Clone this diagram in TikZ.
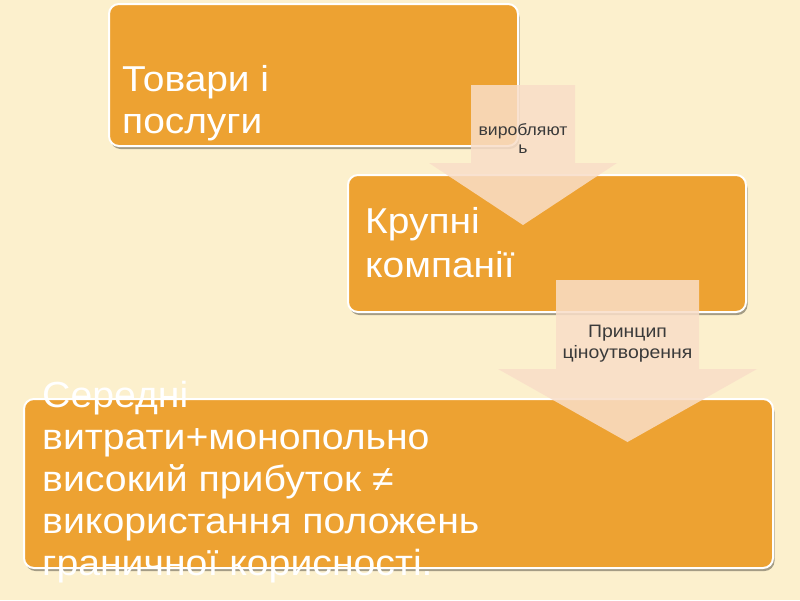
\documentclass[tikz,border=0pt]{standalone}
\usepackage{fontspec}
\setmainfont{Liberation Sans}[FakeStretch=1.08]
\usetikzlibrary{shadows}
\definecolor{Cream}{HTML}{FCF0CD}
\definecolor{Amber}{HTML}{EDA232}
\definecolor{Peach}{HTML}{F9DEC8}
\definecolor{Ink}{HTML}{3A3A3A}
\tikzset{
 box/.style={draw=white, line width=2pt, rounded corners=10pt, fill=Amber, anchor=north west, inner sep=0pt, drop shadow={shadow xshift=1.5pt, shadow yshift=-3pt, opacity=.35, fill=black}},
 boxtext/.style={anchor=base west, align=left, inner sep=0pt, text=white, font=\fontsize{36}{43}\selectfont},
 flow/.style={fill=Peach, fill opacity=.85, draw=none},
 flowtext/.style={anchor=base, align=center, inner sep=0pt, text=Ink, font=\fontsize{16.3}{18}\selectfont}
}

\begin{document}
\begin{tikzpicture}[x=1pt,y=-1pt]
\useasboundingbox[fill=Cream] (0,0) rectangle (800,600);

\node[box, minimum width=409pt, minimum height=142pt] (goods) at (108,3) {};
\node[box, minimum width=398pt, minimum height=137pt] (firms) at (347,174) {};
\node[box, minimum width=749pt, minimum height=169pt] (cost) at (23,398) {};

% base anchor sits on the last line
\node[boxtext, font=\fontsize{36}{42}\selectfont] (goodsTxt) at (122,133) {Товари і\\послуги};
\node[boxtext, font=\fontsize{36}{44}\selectfont] (firmsTxt) at (365,277) {Крупні\\компанії};
\node[boxtext, font=\fontsize{36.3}{42}\selectfont] (costTxt) at (42,575) {Середні\\витрати+монопольно\\високий прибуток ≠\\використання положень\\граничної корисності.};

\coordinate (makeTop) at (523,85);
\coordinate (makeTip) at (523,225);
\coordinate (priceTop) at (627.5,280);
\coordinate (priceTip) at (627.5,442);

\fill[flow] (makeTop) ++(-52,0) -- ++(104,0) -- ++(0,78) -- ++(42,0) -- (makeTip) -- ++(-94,-62) -- ++(42,0) -- cycle;
\fill[flow] (priceTop) ++(-71.5,0) -- ++(143,0) -- ++(0,89) -- ++(58,0) -- (priceTip) -- ++(-129.5,-73) -- ++(58,0) -- cycle;

\node[flowtext] (makeLbl) at (523,153) {виробляют\\ь};
\node[flowtext, font=\fontsize{18}{21}\selectfont] (priceLbl) at (627.5,358) {Принцип\\ціноутворення};
\end{tikzpicture}
\end{document}
